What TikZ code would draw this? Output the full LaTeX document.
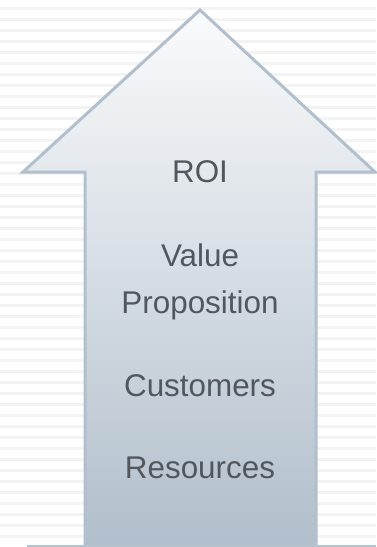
\documentclass[tikz,border=0pt]{standalone}
\usepackage{fontspec}
\setmainfont{Liberation Sans}
\definecolor{stripe}{HTML}{F3F3F3}
\definecolor{edge}{HTML}{B2C0CD}
\definecolor{topfill}{HTML}{FAFBFC}
\definecolor{botfill}{HTML}{B0BECB}
\definecolor{txt}{HTML}{52575D}
\definecolor{floorline}{HTML}{B6C3CF}
\begin{document}
\begin{tikzpicture}[x=1pt,y=-1pt,
  label/.style={font=\fontsize{31.4}{36}\selectfont, text=txt, anchor=base, inner sep=0pt}]
\useasboundingbox (0,0) rectangle (376,547);
\fill[white] (0,0) rectangle (376,547);
\foreach \k in {0,...,48} {
  \fill[stripe] (0,{7+11*\k}) rectangle (376,{9.7+11*\k});
}
\coordinate (bl) at (85,550);
\coordinate (sl) at (85,172);
\coordinate (ol) at (23,172);
\coordinate (tip) at (200,10);
\coordinate (or) at (375,172);
\coordinate (sr) at (316,172);
\coordinate (br) at (316,550);
\shade[top color=topfill, bottom color=botfill] (bl) -- (sl) -- (ol) -- (tip) -- (or) -- (sr) -- (br) -- cycle;
\draw[edge, line width=3pt, line join=miter] (bl) -- (sl) -- (ol) -- (tip) -- (or) -- (sr) -- (br);
\coordinate (ll) at (27,546);
\coordinate (lr) at (376,546);
\draw[floorline, line width=1.5pt] (ll) -- (lr);
\node[label] (roi) at (200,182) {ROI};
\node[label] (val) at (200,266) {Value};
\node[label] (prop) at (200,313) {Proposition};
\node[label] (cust) at (200,396) {Customers};
\node[label] (res) at (200,478) {Resources};
\end{tikzpicture}
\end{document}
